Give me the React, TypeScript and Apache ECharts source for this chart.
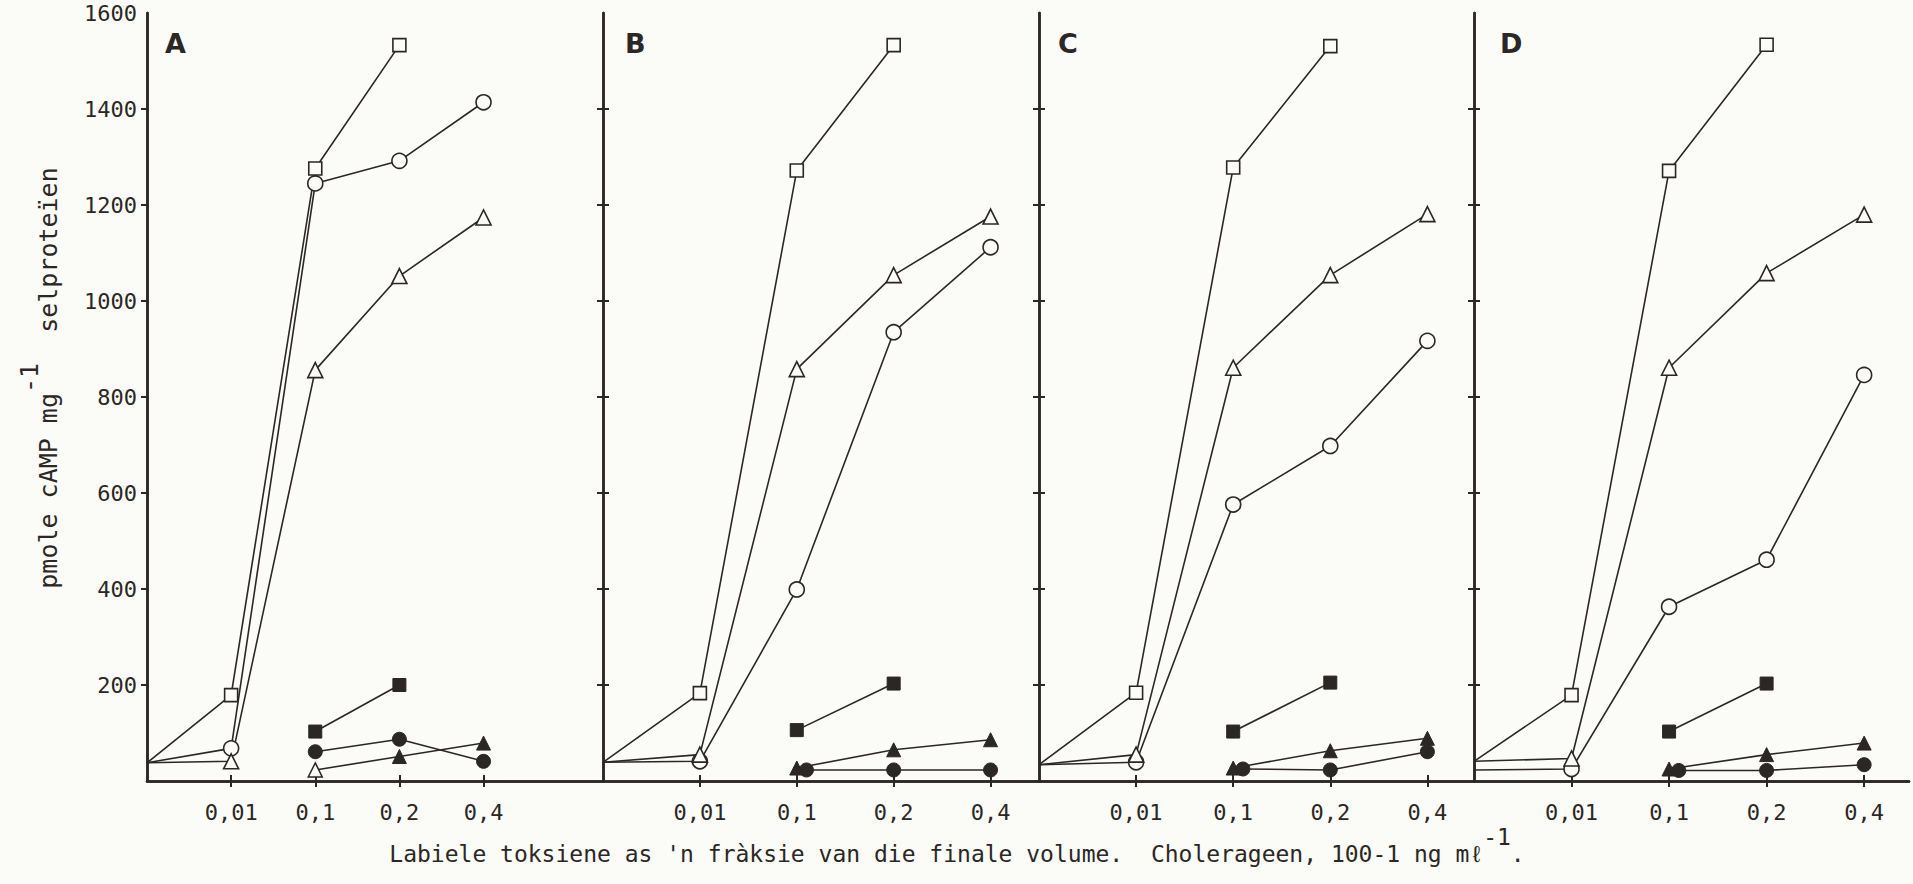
import React, { useEffect, useRef } from 'react';
import * as echarts from 'echarts';

// ---------- data ----------
const panelNames = ['A', 'B', 'C', 'D'];
const xTickPositions = [1, 2, 3, 4];
const xTickLabels = ['0,01', '0,1', '0,2', '0,4'];
const yTickValues = [200, 400, 600, 800, 1000, 1200, 1400, 1600];
const yMax = 1600;

// x positions of the points: 0 = start on the axis, 1..4 = 0,01 / 0,1 / 0,2 / 0,4
const xBase = [0, 1, 2, 3, 4];
const xFilledCircleA = [0, 1, 2, 3, 4];
const xFilledCircleBCD = [0, 1, 2.1, 3, 4];

// Panel A
const aOpenSquare = [38, 179, 1276, 1533, null];
const aOpenCircle = [38, 68, 1245, 1292, 1414];
const aOpenTriangle = [38, 41, 856, 1052, 1174];
const aFilledSquare = [null, null, 103, 200, null];
const aFilledCircle = [null, null, 61, 87, 41];
const aFilledTriangle = [null, null, 23, 51, 79];

// Panel B
const bOpenSquare = [39, 183, 1272, 1533, null];
const bOpenCircle = [39, 41, 399, 935, 1112];
const bOpenTriangle = [39, 55, 858, 1054, 1176];
const bFilledSquare = [null, null, 106, 203, null];
const bFilledCircle = [null, null, 23, 23, 23];
const bFilledTriangle = [null, null, 27, 65, 86];

// Panel C
const cOpenSquare = [34, 184, 1278, 1531, null];
const cOpenCircle = [34, 39, 576, 698, 917];
const cOpenTriangle = [34, 55, 861, 1054, 1181];
const cFilledSquare = [null, null, 103, 205, null];
const cFilledCircle = [null, null, 25, 23, 61];
const cFilledTriangle = [null, null, 27, 63, 89];

// Panel D
const dOpenSquare = [41, 179, 1271, 1534, null];
const dOpenCircle = [23, 25, 363, 461, 846];
const dOpenTriangle = [41, 47, 861, 1058, 1180];
const dFilledSquare = [null, null, 103, 203, null];
const dFilledCircle = [null, null, 22, 22, 34];
const dFilledTriangle = [null, null, 25, 55, 79];

const yTitleMain1 = 'pmole cAMP mg';
const yTitleSup = '-1';
const yTitleMain2 = '  selproteïen';
const xTitleMain = "Labiele toksiene as 'n fràksie van die finale volume.  Cholerageen, 100-1 ng mℓ";
const xTitleSup = '-1';
const xTitleEnd = '.';

// ---------- layout / style ----------
const ink = '#2b2724';
const paper = '#fbfbf7';
const mono = "'DejaVu Sans Mono', 'Liberation Mono', monospace";
const gridLeft = [147, 603, 1039, 1474];
const gridWidth = [456, 436, 435, 435];
const gridTop = 13;
const gridHeight = 768;
const xMax = [5.42, 4.5, 4.48, 4.46];
const letterOffset = [18, 22, 19, 26];

type Kind = { symbol: string; size: number; open: boolean };
const kinds: Record<string, Kind> = {
  openSquare: { symbol: 'rect', size: 13, open: true },
  openCircle: { symbol: 'circle', size: 15, open: true },
  openTriangle: { symbol: 'triangle', size: 15, open: true },
  filledSquare: { symbol: 'rect', size: 13, open: false },
  filledCircle: { symbol: 'circle', size: 14, open: false },
  filledTriangle: { symbol: 'triangle', size: 14, open: false },
};

function buildSeries(p: number, kindName: string, xs: number[], ys: (number | null)[], hollowX: number[] = []) {
  const k = kinds[kindName];
  const data: any[] = [];
  for (let i = 0; i < ys.length; i++) {
    const v = ys[i];
    if (v == null) continue;
    const item: any = { value: [xs[i], v] };
    if (xs[i] === 0) item.symbol = 'none';
    if (hollowX.indexOf(xs[i]) >= 0) {
      item.itemStyle = { color: paper, borderColor: ink, borderWidth: 1.5 };
    }
    data.push(item);
  }
  return {
    type: 'line',
    name: panelNames[p] + '-' + kindName,
    xAxisIndex: p * 3,
    yAxisIndex: p * 3,
    data,
    symbol: k.symbol,
    symbolSize: k.size,
    showAllSymbol: true,
    lineStyle: { color: ink, width: 1.6 },
    itemStyle: k.open
      ? { color: paper, borderColor: ink, borderWidth: 1.6 }
      : { color: ink, borderColor: ink, borderWidth: 1 },
    emphasis: { disabled: true },
    z: k.open ? 3 : 4,
  };
}

function buildOption() {
  const grid: any[] = [];
  const xAxis: any[] = [];
  const yAxis: any[] = [];
  const axisLine = { show: true, lineStyle: { color: ink, width: 2.5 } };
  const tickStyle = { color: ink, width: 2 };
  for (let p = 0; p < 4; p++) {
    grid.push({ left: gridLeft[p], top: gridTop, width: gridWidth[p], height: gridHeight, outerBoundsMode: 'none' });
  }
  for (let p = 0; p < 4; p++) {
    grid.push({ left: gridLeft[p], top: gridTop, width: gridWidth[p], height: gridHeight, outerBoundsMode: 'none' });
  }
  for (let p = 0; p < 4; p++) {
    // bottom main axis
    xAxis.push({
      type: 'value', gridIndex: p, position: 'bottom', min: 0, max: xMax[p],
      axisLine,
      axisTick: { show: true, inside: true, length: 6, customValues: xTickPositions, lineStyle: tickStyle },
      axisLabel: {
        show: true, customValues: xTickPositions, margin: 20,
        formatter: (v: number) => {
          const i = xTickPositions.indexOf(Math.round(v));
          return i >= 0 ? xTickLabels[i] : '';
        },
        fontFamily: mono, fontSize: 22, color: ink,
      },
      splitLine: { show: false },
    });
    // top border axis
    xAxis.push({
      type: 'value', gridIndex: p, position: 'top', min: 0, max: xMax[p],
      axisLine,
      axisTick: { show: true, inside: true, length: 6, customValues: xTickPositions, lineStyle: tickStyle },
      axisLabel: { show: false },
      splitLine: { show: false },
    });
    // outward ticks of bottom axis (overlay grid)
    xAxis.push({
      type: 'value', gridIndex: p + 4, position: 'bottom', min: 0, max: xMax[p],
      axisLine: { show: false },
      axisTick: { show: true, inside: false, length: 5, customValues: xTickPositions, lineStyle: tickStyle },
      axisLabel: { show: false },
      splitLine: { show: false },
    });
    // left axis
    yAxis.push({
      type: 'value', gridIndex: p, position: 'left', min: 0, max: yMax,
      axisLine,
      axisTick: { show: true, inside: p !== 0, length: 6, customValues: yTickValues.slice(0, -1), lineStyle: tickStyle },
      axisLabel: {
        show: p === 0, customValues: yTickValues, margin: 10,
        fontFamily: mono, fontSize: 22, color: ink,
        formatter: (v: number) => String(v),
      },
      splitLine: { show: false },
    });
    // right border axis
    yAxis.push({
      type: 'value', gridIndex: p, position: 'right', min: 0, max: yMax,
      axisLine,
      axisTick: { show: true, inside: true, length: 6, customValues: yTickValues.slice(0, -1), lineStyle: tickStyle },
      axisLabel: { show: false },
      splitLine: { show: false },
    });
    // dummy y for overlay grid
    yAxis.push({ type: 'value', gridIndex: p + 4, min: 0, max: yMax, show: false });
  }

  const series: any[] = [
    buildSeries(0, 'openSquare', xBase, aOpenSquare),
    buildSeries(0, 'openCircle', xBase, aOpenCircle),
    buildSeries(0, 'openTriangle', xBase, aOpenTriangle),
    buildSeries(0, 'filledSquare', xBase, aFilledSquare),
    buildSeries(0, 'filledCircle', xFilledCircleA, aFilledCircle),
    buildSeries(0, 'filledTriangle', xBase, aFilledTriangle, [2]),

    buildSeries(1, 'openSquare', xBase, bOpenSquare),
    buildSeries(1, 'openCircle', xBase, bOpenCircle),
    buildSeries(1, 'openTriangle', xBase, bOpenTriangle),
    buildSeries(1, 'filledSquare', xBase, bFilledSquare),
    buildSeries(1, 'filledTriangle', xBase, bFilledTriangle),
    buildSeries(1, 'filledCircle', xFilledCircleBCD, bFilledCircle),

    buildSeries(2, 'openSquare', xBase, cOpenSquare),
    buildSeries(2, 'openCircle', xBase, cOpenCircle),
    buildSeries(2, 'openTriangle', xBase, cOpenTriangle),
    buildSeries(2, 'filledSquare', xBase, cFilledSquare),
    buildSeries(2, 'filledTriangle', xBase, cFilledTriangle),
    buildSeries(2, 'filledCircle', xFilledCircleBCD, cFilledCircle),

    buildSeries(3, 'openSquare', xBase, dOpenSquare),
    buildSeries(3, 'openCircle', xBase, dOpenCircle),
    buildSeries(3, 'openTriangle', xBase, dOpenTriangle),
    buildSeries(3, 'filledSquare', xBase, dFilledSquare),
    buildSeries(3, 'filledTriangle', xBase, dFilledTriangle),
    buildSeries(3, 'filledCircle', xFilledCircleBCD, dFilledCircle),
  ];

  const yRichMain = { fontFamily: mono, fontSize: 25, fill: ink, lineHeight: 62, verticalAlign: 'middle' };
  const yRichSup = { fontFamily: mono, fontSize: 25, fill: ink, lineHeight: 25, verticalAlign: 'top' };
  const xRichMain = { fontFamily: mono, fontSize: 23, fill: ink, lineHeight: 58, verticalAlign: 'middle' };
  const xRichSup = { fontFamily: mono, fontSize: 23, fill: ink, lineHeight: 23, verticalAlign: 'top' };

  const graphic: any[] = [];
  for (let p = 0; p < 4; p++) {
    graphic.push({
      type: 'text',
      x: gridLeft[p] + letterOffset[p],
      y: 30,
      style: {
        text: panelNames[p], fontFamily: "'DejaVu Sans', sans-serif", fontSize: 27,
        fontWeight: 'bold', fill: ink, align: 'left', verticalAlign: 'top',
      },
      z: 10,
    });
  }
  graphic.push({
    type: 'text',
    x: 48, y: 378, rotation: Math.PI / 2,
    style: {
      text: '{a|' + yTitleMain1 + '}{s|' + yTitleSup + '}{a|' + yTitleMain2 + '}',
      rich: { a: yRichMain, s: yRichSup },
      align: 'center', verticalAlign: 'middle',
    },
  });
  graphic.push({
    type: 'text',
    x: 957, y: 854,
    style: {
      text: '{a|' + xTitleMain + '}{s|' + xTitleSup + '}{a|' + xTitleEnd + '}',
      rich: { a: xRichMain, s: xRichSup },
      align: 'center', verticalAlign: 'middle',
    },
  });

  return {
    animation: false,
    backgroundColor: paper,
    grid, xAxis, yAxis, series, graphic,
  };
}

export default function App() {
  const ref = useRef<HTMLDivElement>(null);
  useEffect(() => {
    if (!ref.current) return;
    const chart = echarts.init(ref.current, null, { renderer: 'svg' });
    chart.setOption(buildOption() as any);
    return () => chart.dispose();
  }, []);
  return (
    <div
      ref={ref}
      style={{ position: 'fixed', left: 0, top: 0, width: '1913px', height: '884px' }}
    />
  );
}
